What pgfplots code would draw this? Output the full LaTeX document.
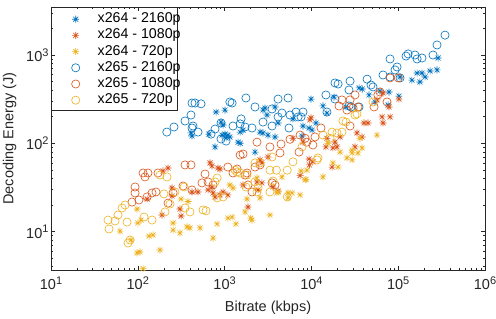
\documentclass[border=0pt]{standalone}
\usepackage{fontspec}
\setmainfont{Liberation Sans}
\usepackage{pgfplots}
\pgfplotsset{compat=1.18}
\definecolor{mblue}{HTML}{0072BD}
\definecolor{mred}{HTML}{D95319}
\definecolor{myel}{HTML}{EDB120}
\definecolor{axgray}{HTML}{262626}
\newcommand\ex[1]{10\raisebox{5.5pt}{\fontsize{11}{11}\selectfont #1}}
\pgfdeclareplotmark{mstar}{%
  \pgfpathmoveto{\pgfqpoint{-\pgfplotmarksize}{0pt}}\pgfpathlineto{\pgfqpoint{\pgfplotmarksize}{0pt}}%
  \pgfpathmoveto{\pgfqpoint{0pt}{-\pgfplotmarksize}}\pgfpathlineto{\pgfqpoint{0pt}{\pgfplotmarksize}}%
  \pgfpathmoveto{\pgfqpoint{-0.707\pgfplotmarksize}{-0.707\pgfplotmarksize}}\pgfpathlineto{\pgfqpoint{0.707\pgfplotmarksize}{0.707\pgfplotmarksize}}%
  \pgfpathmoveto{\pgfqpoint{-0.707\pgfplotmarksize}{0.707\pgfplotmarksize}}\pgfpathlineto{\pgfqpoint{0.707\pgfplotmarksize}{-0.707\pgfplotmarksize}}%
  \pgfusepathqstroke}
\begin{document}
\begin{tikzpicture}
\useasboundingbox (-51pt,-49pt) rectangle (445pt,270pt);
\begin{axis}[
  scale only axis, width=434pt, height=263pt,
  xmode=log, ymode=log,
  xmin=10, xmax=1e6, ymin=3.67, ymax=3500,
  xtick={10,100,1000,10000,100000,1000000},
  xticklabels={\ex{1},\ex{2},\ex{3},\ex{4},\ex{5},\ex{6}},
  ytick={10,100,1000},
  yticklabels={\ex{1},\ex{2},\ex{3}},
  minor xtick={20,30,40,50,60,70,80,90,200,300,400,500,600,700,800,900,2000,3000,4000,5000,6000,7000,8000,9000,20000,30000,40000,50000,60000,70000,80000,90000,200000,300000,400000,500000,600000,700000,800000,900000},
  minor ytick={4,5,6,7,8,9,20,30,40,50,60,70,80,90,200,300,400,500,600,700,800,900,2000,3000},
  tick align=inside,
  major tick length=4.5pt, minor tick length=2.5pt,
  axis line style={axgray, line width=0.5pt},
  every tick/.style={axgray, line width=0.5pt},
  tick label style={font=\fontsize{14.5}{16}\selectfont, text=axgray},
  xticklabel style={yshift=-3pt},
  yticklabel style={xshift=1pt},
  xlabel={Bitrate (kbps)}, ylabel={Decoding Energy (J)},
  label style={font=\fontsize{14.5}{16}\selectfont, text=axgray},
  xlabel style={yshift=-4pt},
  ylabel style={yshift=3pt},
  legend style={at={(0,1)}, anchor=north west, font=\fontsize{14.2}{16}\selectfont, draw=none, fill=none,
    inner sep=5.5pt, row sep=3.2pt, nodes={inner sep=0pt, text height=10pt, text depth=3pt}},
  legend cell align=left,
  legend image code/.code={\path[draw=none,fill=none] (0pt,0pt) -- (41pt,0pt);\draw[mark repeat=2,mark phase=2,#1] plot coordinates {(0pt,0pt) (19pt,0pt) (38pt,0pt)};},
]
\draw[axgray, line width=0.7pt] (rel axis cs:0,0.606) rectangle (rel axis cs:0.290,1);
\addplot[only marks, mark=mstar, mark size=3.5pt, mblue, line width=0.6pt] table {
798 226
1010 238
910 174
960 161
410 131
421 121
661 127
934 124
1010 127
1090 124
1040 115
776 91
1430 103
1510 134
2920 251
3080 209
3810 258
2770 238
9900 317
13600 265
18200 334
25000 258
35400 424
38500 412
46100 353
61700 391
78400 381
102000 343
144000 520
165000 625
188000 625
178000 495
204000 564
233000 660
280000 678
288000 925
2560 134
2770 131
3160 124
3810 118
4130 170
6130 189
8010 157
9400 149
10200 141
2240 79.6
1510 100
11300 170
15100 220
7800 121
1150 118
54000 294
76500 272
1630 141
105000 564
};
\addlegendentry{x264 - 2160p}
\addplot[only marks, mark=mstar, mark size=3.5pt, mred, line width=0.6pt] table {
195 48.6
223 52.5
128 23.4
248 31.2
248 25.3
190 15.4
315 15.0
306 18.0
679 60.0
716 55.4
886 51.1
421 28.1
494 28.1
645 29.6
736 27.4
776 24.7
886 26.0
960 28.1
1090 26.0
1630 33.7
1860 19.0
2560 64.8
2690 60.0
3160 70.0
2360 36.5
2690 35.6
2430 29.6
4130 28.8
3610 32.0
9600 184
6130 114
8010 103
9900 194
15100 114
21400 118
18700 103
38300 118
33500 131
40400 170
44900 170
65200 199
80600 199
66900 170
66900 371
78400 258
102000 317
14700 91
19700 91
31800 91
9400 66.4
10400 61.7
9500 56.9
7410 43.1
17300 53.8
17700 88.6
57000 310
716 32.0
840 52.5
};
\addlegendentry{x264 - 1080p}
\addplot[only marks, mark=mstar, mark size=3.5pt, myel, line width=0.6pt] table {
98 18.0
100 12.5
62.4 10.1
83.6 8.03
98 5.74
106 5.87
115 3.8
109 13.5
135 8.9
150 9.16
180 6.18
255 12.5
255 10.4
306 9.65
369 11.3
399 11.0
315 23.4
379 21.9
521 11.0
736 8.43
820 12.2
1090 14.2
1220 14.6
1350 12.2
1720 16.7
2000 14.2
2560 24.1
3330 15.4
4580 41.6
1150 33.7
1250 31.2
1810 23.4
2360 40.5
4130 28.1
57000 124
36300 114
38300 88.6
29400 84
29400 64.8
20300 53.8
17700 60.0
13600 41.6
8450 38.4
15500 100
21400 79.6
25700 68.3
29400 77.8
34400 77.8
5380 27.4
6000 27.4
5380 24.1
7410 26.0
7600 48.6
8880 49.6
8660 39.0
4000 27.4
2070 13.5
};
\addlegendentry{x264 - 720p}
\addplot[only marks, mark=o, mark size=4.1pt, mblue, line width=0.6pt] table {
216 134
261 153
350 179
410 209
421 286
456 286
535 280
421 149
432 157
494 134
698 127
776 145
910 170
910 112
1040 106
1250 157
1150 294
1220 286
1550 189
1760 326
1720 153
2240 258
4130 317
5380 326
4580 220
5670 209
6650 226
8010 226
7600 199
3520 245
3520 157
5520 149
2070 149
1510 166
2770 174
4130 199
7030 199
15100 226
14700 353
18700 483
20300 470
27900 507
27100 402
27100 265
28600 258
35400 258
43800 533
48600 457
51300 435
80600 903
92000 678
97000 732
66900 594
105000 550
123000 973
130000 1030
156000 1000
165000 903
188000 925
252000 1000
280000 1300
346000 1680
18700 317
80600 564
};
\addlegendentry{x265 - 2160p}
\addplot[only marks, mark=o, mark size=4.1pt, mred, line width=0.6pt] table {
93 32.0
93 27.4
85.8 21.6
103 22.8
115 46.1
121 41.6
131 46.1
128 24.7
146 27.4
162 28.1
171 46.1
350 56.9
410 56.9
255 27.4
332 32.8
421 29.6
549 35.6
595 44.9
736 33.7
1090 53.8
1390 51.1
1810 46.1
1860 33.7
1510 73.6
1630 75.7
2360 103
3330 91
4470 98
4350 77.8
5670 111
7200 79.6
7410 124
8450 114
8880 103
10400 95.7
11000 118
12900 149
2560 56.9
3520 35.6
2070 28.1
3810 33.7
1720 43.7
20800 265
22500 310
27900 310
31800 353
34400 258
30200 251
52700 258
61700 381
74400 294
100000 550
80600 550
58300 353
25700 238
27900 157
645 36.5
223 21.0
1250 46.1
2240 53.8
};
\addlegendentry{x265 - 1080p}
\addplot[only marks, mark=o, mark size=4.1pt, myel, line width=0.6pt] table {
45.4 13.5
46.6 10.7
54.7 13.2
59.2 15.4
65.8 18.5
71.3 20.0
75.2 12.8
77.2 7.42
81.4 8.03
118 14.6
146 13.5
200 26.7
217 41.6
235 20.5
206 16.7
342 32.0
350 18.5
180 43.7
399 16.7
565 17.6
611 17.2
776 36.5
820 40.5
960 24.7
820 24.1
1390 47.3
1510 46.1
1810 43.7
2240 60.0
3330 49.6
3520 70.0
2430 31.2
3330 28.1
5270 24.7
3610 37.4
1320 49.6
2240 36.5
2560 60.0
3950 49.6
2360 28.1
23100 179
31800 209
13600 124
16400 114
7800 91
11600 64.8
25000 174
33500 215
51300 294
17300 134
19700 131
22500 134
6130 61.7
5270 49.6
11900 68.3
268 28.1
1760 32.0
};
\addlegendentry{x265 - 720p}
\end{axis}
\end{tikzpicture}
\end{document}
